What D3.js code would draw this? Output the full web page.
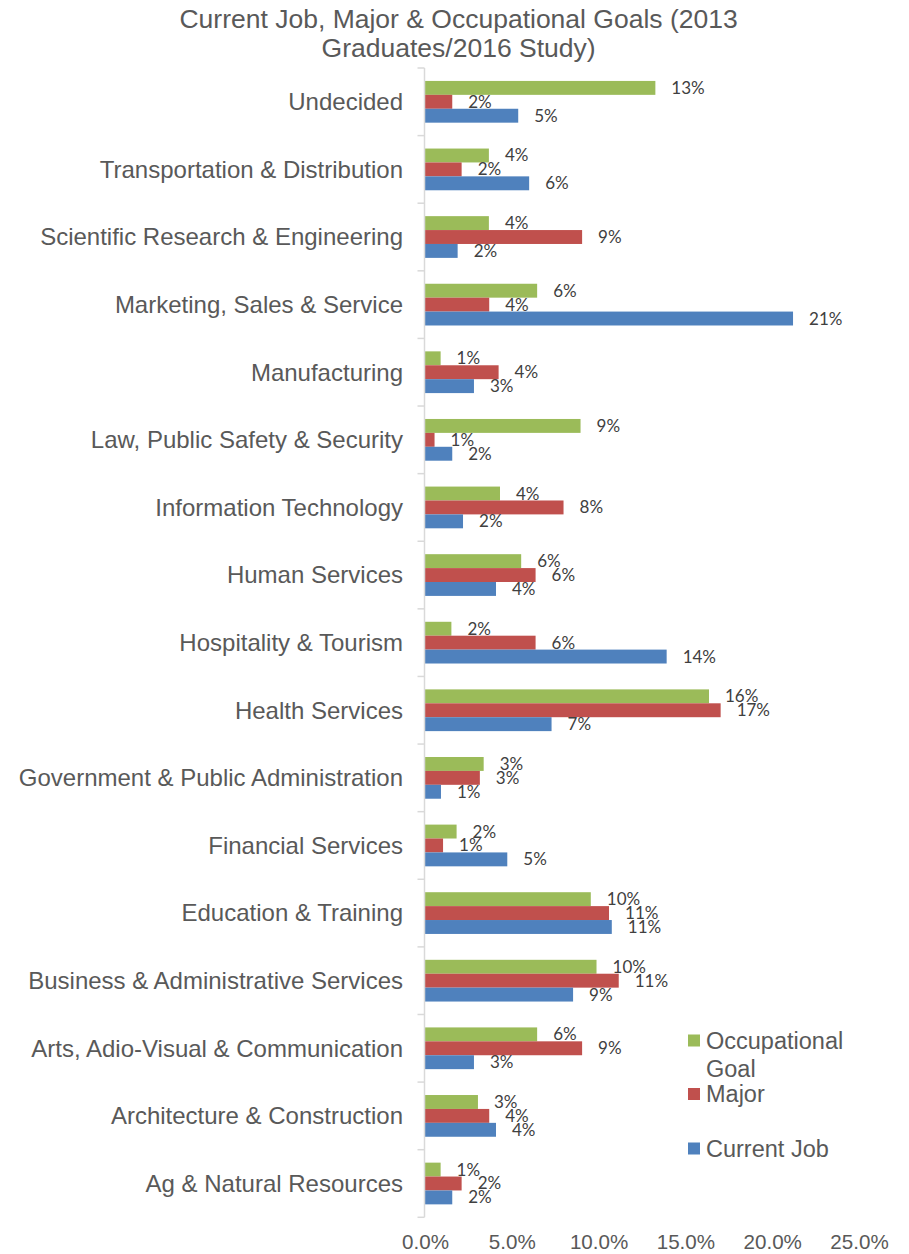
<!DOCTYPE html>
<html>
<head>
<meta charset="utf-8">
<script src="https://cdn.jsdelivr.net/npm/d3@7"></script>
<style>
  html, body { margin: 0; padding: 0; background: #ffffff; }
  svg { display: block; }
</style>
</head>
<body>
<svg id="chart" width="909" height="1254"></svg>
<script>
// Career clusters, listed bottom-to-top as in the source table
const categories = [
  "Ag & Natural Resources",
  "Architecture & Construction",
  "Arts, Adio-Visual & Communication",
  "Business & Administrative Services",
  "Education & Training",
  "Financial Services",
  "Government & Public Administration",
  "Health Services",
  "Hospitality & Tourism",
  "Human Services",
  "Information Technology",
  "Law, Public Safety & Security",
  "Manufacturing",
  "Marketing, Sales & Service",
  "Scientific Research & Engineering",
  "Transportation & Distribution",
  "Undecided"
];

// Share of respondents, in percent (same order as categories)
const currentJob = [1.57, 4.09, 2.82, 8.53, 10.76, 4.74, 0.92, 7.29, 13.92, 4.09, 2.19, 1.57, 2.82, 21.2, 1.88, 6.0, 5.37];
const major = [2.11, 3.70, 9.05, 11.16, 10.6, 1.04, 3.16, 17.03, 6.37, 6.37, 7.98, 0.55, 4.24, 3.70, 9.05, 2.11, 1.57];
const occupationalGoal = [0.90, 3.05, 6.46, 9.88, 9.55, 1.82, 3.38, 16.36, 1.52, 5.54, 4.32, 8.96, 0.90, 6.46, 3.68, 3.68, 13.27];

const seriesNames = ["Occupational Goal", "Major", "Current Job"];
const seriesValues = [occupationalGoal, major, currentJob];
const seriesColors = ["#9BBB59", "#C0504D", "#4F81BD"];

const xTicks = [0, 5, 10, 15, 20, 25];

const titleLines = ["Current Job, Major & Occupational Goals (2013", "Graduates/2016 Study)"];

const svg = d3.select("#chart");
const textGray = "#595959";
const labelFont = "'Liberation Sans', Arial, sans-serif";

// Scales
const x = d3.scaleLinear().domain([0, 25]).range([425, 859]);
const y = d3.scaleBand()
  .domain(categories.slice().reverse())
  .range([68, 1217.3])
  .padding(0);
const ySub = d3.scaleBand()
  .domain(seriesNames)
  .range([0, y.bandwidth()])
  .paddingInner(0)
  .paddingOuter(0.93);

// Title
svg.append("g")
  .selectAll("text")
  .data(titleLines)
  .join("text")
  .attr("x", 458.6)
  .attr("y", (d, i) => 28.3 + i * 29)
  .attr("text-anchor", "middle")
  .attr("font-family", labelFont)
  .attr("font-size", 26.5)
  .attr("fill", textGray)
  .text(d => d);

// Bars
const rows = categories.map((c, i) => ({
  category: c,
  values: seriesNames.map((s, k) => ({ series: s, value: seriesValues[k][i], color: seriesColors[k] }))
}));

const groups = svg.append("g")
  .selectAll("g")
  .data(rows)
  .join("g")
  .attr("transform", d => `translate(0,${y(d.category)})`);

groups.selectAll("rect")
  .data(d => d.values)
  .join("rect")
  .attr("x", x(0))
  .attr("y", d => ySub(d.series))
  .attr("width", d => x(d.value) - x(0))
  .attr("height", ySub.bandwidth())
  .attr("fill", d => d.color);

// Value labels
groups.selectAll("text")
  .data(d => d.values)
  .join("text")
  .attr("x", d => x(d.value) + 16)
  .attr("y", d => ySub(d.series) + ySub.bandwidth() / 2 + 6)
  .attr("font-family", "Lato, 'Open Sans', sans-serif")
  .attr("font-size", 17)
  .attr("fill", "#404040")
  .text(d => Math.round(d.value) + "%");

// Category axis: vertical line with ticks at band boundaries
const axisG = svg.append("g");
const [y0, y1] = y.range();
axisG.append("line")
  .attr("x1", x(0) - 0.5).attr("x2", x(0) - 0.5)
  .attr("y1", y0).attr("y2", y1)
  .attr("stroke", "#d9d9d9")
  .attr("stroke-width", 1.5);
const boundaries = y.domain().map(c => y(c)).concat([y1]);
axisG.selectAll("line.tick")
  .data(boundaries)
  .join("line")
  .attr("class", "tick")
  .attr("x1", x(0) - 7.5).attr("x2", x(0) - 0.5)
  .attr("y1", d => d).attr("y2", d => d)
  .attr("stroke", "#d9d9d9")
  .attr("stroke-width", 1.5);

axisG.selectAll("text")
  .data(y.domain())
  .join("text")
  .attr("x", 403)
  .attr("y", d => y(d) + y.bandwidth() / 2)
  .attr("dy", "0.35em")
  .attr("text-anchor", "end")
  .attr("font-family", labelFont)
  .attr("font-size", 24)
  .attr("fill", textGray)
  .text(d => d);

// Value axis (labels only)
const xAxis = d3.axisBottom(x)
  .tickValues(xTicks)
  .tickSize(0)
  .tickPadding(17.4)
  .tickFormat(d => d.toFixed(1) + "%");
const xg = svg.append("g")
  .attr("transform", `translate(0,${y1})`)
  .call(xAxis);
xg.select(".domain").remove();
xg.selectAll("text")
  .attr("font-family", labelFont)
  .attr("font-size", 20.6)
  .attr("fill", textGray);

// Legend
const legendItems = [
  { lines: ["Occupational", "Goal"], color: seriesColors[0], cy: 1040.5 },
  { lines: ["Major"], color: seriesColors[1], cy: 1094 },
  { lines: ["Current Job"], color: seriesColors[2], cy: 1148.5 }
];
const legend = svg.append("g")
  .selectAll("g")
  .data(legendItems)
  .join("g");
legend.append("rect")
  .attr("x", 688)
  .attr("y", d => d.cy - 6)
  .attr("width", 12)
  .attr("height", 12)
  .attr("fill", d => d.color);
legend.each(function (d) {
  d3.select(this).selectAll("text")
    .data(d.lines)
    .join("text")
    .attr("x", 706)
    .attr("y", (t, i) => d.cy + i * 28)
    .attr("dy", "0.35em")
    .attr("font-family", labelFont)
    .attr("font-size", 23.5)
    .attr("fill", textGray)
    .text(t => t);
});
</script>
</body>
</html>
